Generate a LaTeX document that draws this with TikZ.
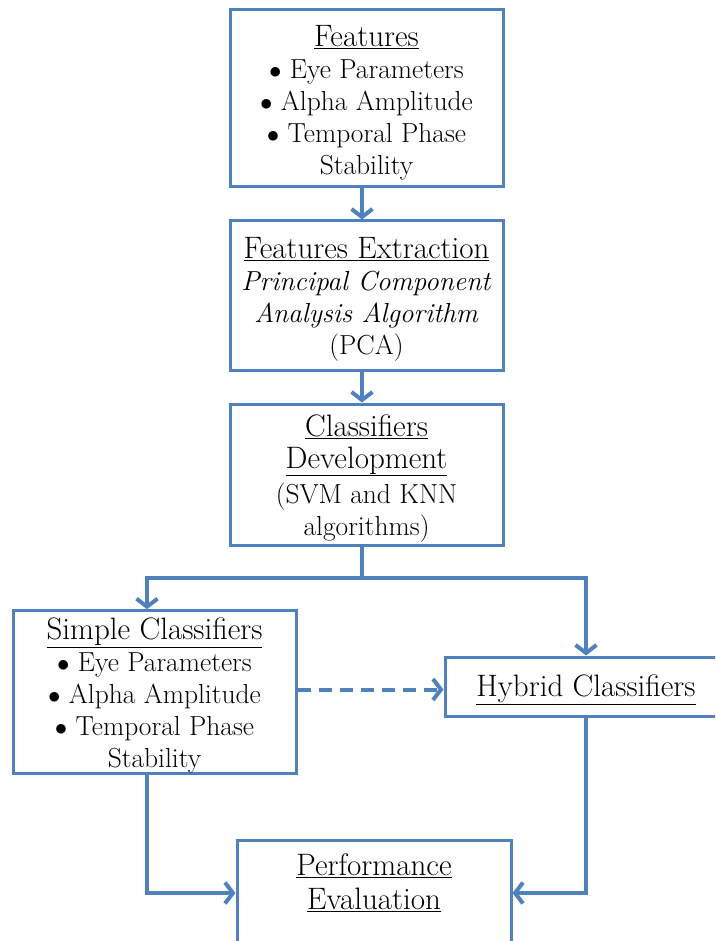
\documentclass[tikz,border=0pt]{standalone}
\usetikzlibrary{arrows.meta}
\definecolor{flowblue}{RGB}{79,129,189}
\newcommand{\heading}[1]{{\fontsize{31}{35}\selectfont\rule{0pt}{29pt}\underline{#1}}}
\newcommand{\itembul}{$\bullet$\ }

\begin{document}
\begin{tikzpicture}[x=1pt,y=-1pt,
    box/.style={draw=flowblue,line width=3pt,align=center,inner sep=0pt,
        font=\fontsize{27.5}{32}\selectfont},
    link/.style={draw=flowblue,line width=4pt},
    conn/.style={link,-{Straight Barb[length=8pt,width=21pt]}}]
\useasboundingbox (0,0) rectangle (715,941);
\clip (0,0) rectangle (715,941);

% Main column
\node[box,minimum width=273pt,minimum height=177pt] (feat) at (366.5,98.5)
    {\heading{Features}\\ \itembul Eye Parameters\\ \itembul Alpha Amplitude\\
     \itembul Temporal Phase\\ Stability};
\node[box,minimum width=273pt,minimum height=149pt] (extr) at (366.5,295.5)
    {\heading{Features Extraction}\\ \textit{Principal Component}\\
     \textit{Analysis Algorithm}\\ (PCA)};
\node[box,minimum width=273pt,minimum height=141pt] (clsf) at (366.5,474.5)
    {\heading{Classifiers}\\ \heading{Development}\\[3pt] (SVM and KNN\\ algorithms)};

% Classifier branches
\node[box,minimum width=283pt,minimum height=162pt] (simple) at (154.5,692)
    {\heading{Simple Classifiers}\\ \itembul Eye Parameters\\ \itembul Alpha Amplitude\\
     \itembul Temporal Phase\\ Stability};
\node[box,minimum width=282pt,minimum height=59pt] (hybrid) at (586,686.5)
    {\heading{Hybrid Classifiers}};
\node[box,minimum width=274pt,minimum height=108pt] (perf) at (374,894)
    {\heading{Performance}\\[2pt] \heading{Evaluation}\\ ~};

% Connectors
\draw[conn] ([xshift=-4.5pt]feat.south) -- ([xshift=-4.5pt]extr.north);
\draw[conn] ([xshift=-4.5pt]extr.south) -- ([xshift=-4.5pt]clsf.north);
\coordinate (split) at (362,578);
\draw[link] ([xshift=-4.5pt]clsf.south) -- (split);
\draw[conn] (split) -| ([xshift=-7.5pt]simple.north);
\draw[conn] (split) -| (hybrid.north);
\draw[conn,dash pattern=on 13pt off 8pt] ([yshift=-3pt]simple.east |- hybrid.west) -- ([yshift=-3pt]hybrid.west);
\draw[conn] ([xshift=-7.5pt]simple.south) |- ([yshift=1pt]perf.west);
\draw[conn] (hybrid.south) |- ([yshift=1pt]perf.east);
\end{tikzpicture}
\end{document}
